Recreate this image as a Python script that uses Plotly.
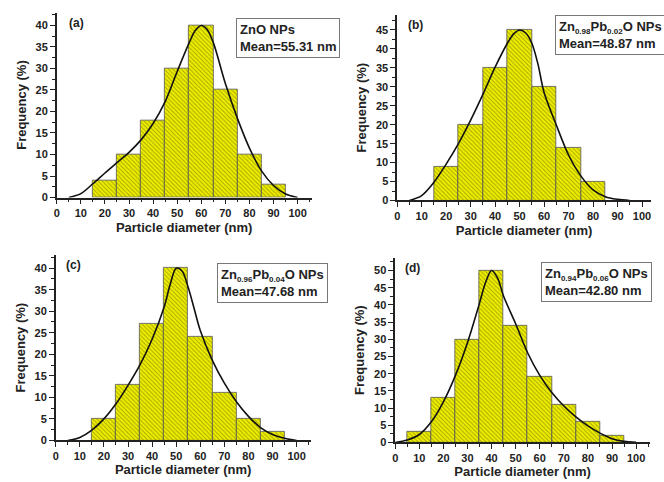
import plotly.graph_objects as go

# ---------------- data ----------------
bin_centers_a = [20, 30, 40, 50, 60, 70, 80, 90]
freq_a = [4, 10, 18, 30, 40, 25, 10, 3]
bin_centers_b = [20, 30, 40, 50, 60, 70, 80]
freq_b = [9, 20, 35, 45, 30, 14, 5]
bin_centers_c = [20, 30, 40, 50, 60, 70, 80, 90]
freq_c = [5, 13, 27, 40, 24, 11, 5, 2]
bin_centers_d = [10, 20, 30, 40, 50, 60, 70, 80, 90]
freq_d = [3, 13, 30, 50, 34, 19, 11, 6, 2]

fit_x_a = [5, 10, 15, 20, 25, 30, 35, 40, 45, 50, 55, 57.5, 60, 62.5, 65, 70, 75, 80, 85, 90, 95, 100]
fit_y_a = [0, 0.9, 3.2, 5.7, 8.1, 10.5, 13.4, 17.2, 22.3, 29.3, 36.0, 38.8, 40, 39.0, 36.0, 26.5, 18.4, 11.5, 6.2, 2.8, 0.8, 0]
fit_x_b = [5, 10, 15, 20, 25, 30, 35, 40, 45, 47.5, 50, 52.5, 55, 57.5, 60, 65, 70, 75, 80, 85, 90, 95]
fit_y_b = [0, 1.3, 4.8, 9.6, 15.0, 21.2, 28.0, 35.2, 41.5, 43.9, 45, 44.2, 41.5, 36.0, 28.5, 19.9, 12.0, 6.5, 2.8, 1.0, 0.3, 0]
fit_x_c = [5, 10, 15, 20, 25, 30, 35, 40, 45, 47.5, 50, 52.5, 55, 57.5, 60, 65, 70, 75, 80, 85, 90, 95, 100]
fit_y_c = [0, 0.7, 2.4, 5.0, 8.5, 12.8, 17.6, 23.5, 31.0, 36.2, 40, 39.3, 35.5, 30.5, 25.5, 18.6, 13.3, 9.0, 5.6, 3.0, 1.4, 0.5, 0]
fit_x_d = [0, 5, 10, 15, 20, 25, 30, 35, 37.5, 40, 42.5, 45, 50, 55, 60, 65, 70, 75, 80, 85, 90, 95, 100]
fit_y_d = [0, 0.7, 2.3, 6.0, 11.8, 19.5, 29.0, 40.5, 46.5, 50, 47.8, 42.5, 34.5, 26.0, 19.5, 14.5, 10.6, 7.4, 4.8, 2.7, 1.1, 0.3, 0]

x_ticks = [0, 10, 20, 30, 40, 50, 60, 70, 80, 90, 100]
panel_labels = ["(a)", "(b)", "(c)", "(d)"]
SUB = '<sub><span style="font-size:8px">%s</span></sub>'
legend_texts = [
    "ZnO NPs<br>Mean=55.31 nm",
    "Zn" + SUB % "0.98" + "Pb" + SUB % "0.02" + "O NPs<br>Mean=48.87 nm",
    "Zn" + SUB % "0.96" + "Pb" + SUB % "0.04" + "O NPs<br>Mean=47.68 nm",
    "Zn" + SUB % "0.94" + "Pb" + SUB % "0.06" + "O NPs<br>Mean=42.80 nm",
]
x_title = "Particle diameter (nm)"
y_title = "Frequency (%)"

# ---------------- layout geometry (pixels) ----------------
W, H = 664, 482
panels = [
    # (x0px, x1px, ybottom_px, ytop_px, xmax, ymax)
    (54, 310, 200, 12.7, 105.8, 43.0),
    (396, 651, 203, 15, 103.7, 49.0),
    (53, 309, 446, 258, 105.8, 43.1),
    (394, 650, 448, 261, 105.8, 53.7),
]
legend_boxes = [(234, 18), (555, 15), (215, 266), (540, 265)]
label_pos = [(64, 14), (405, 16), (61, 259), (402, 262)]

centers = [bin_centers_a, bin_centers_b, bin_centers_c, bin_centers_d]
freqs = [freq_a, freq_b, freq_c, freq_d]
fxs = [fit_x_a, fit_x_b, fit_x_c, fit_x_d]
fys = [fit_y_a, fit_y_b, fit_y_c, fit_y_d]

FONT = "Arial, Liberation Sans, sans-serif"
fig = go.Figure()
annotations = []
for i in range(4):
    xa = "x" if i == 0 else f"x{i+1}"
    ya = "y" if i == 0 else f"y{i+1}"
    fig.add_trace(go.Bar(
        x=centers[i], y=freqs[i], width=10,
        xaxis=xa, yaxis=ya,
        marker=dict(
            color="#eeee00",
            line=dict(color="#555555", width=0.8),
            pattern=dict(shape="\\", fgcolor="#5a5a00", bgcolor="#eeee00",
                         size=3, solidity=0.3, fillmode="overlay"),
        ),
        showlegend=False, hoverinfo="skip",
    ))
    fig.add_trace(go.Scatter(
        x=fxs[i], y=fys[i], mode="lines", xaxis=xa, yaxis=ya,
        line=dict(color="#111111", width=1.6, shape="spline", smoothing=0.9),
        showlegend=False, hoverinfo="skip",
    ))
    x0, x1, yb, yt, xmax, ymax = panels[i]
    xkey = "xaxis" if i == 0 else f"xaxis{i+1}"
    ykey = "yaxis" if i == 0 else f"yaxis{i+1}"
    axis_font = dict(family=FONT, size=11, color="#222222", weight="bold")
    title_font = dict(family=FONT, size=13, color="#222222", weight="bold")
    fig.layout[xkey] = dict(
        domain=[x0 / W, x1 / W], anchor=ya, range=[0, xmax],
        tickvals=x_ticks, ticks="outside", ticklen=5, tickwidth=1.3,
        tickcolor="#222222", showline=True, linecolor="#222222", linewidth=1.5,
        showgrid=False, zeroline=False, tickfont=axis_font,
        minor=dict(dtick=5, tick0=0, ticks="outside", ticklen=3, tickwidth=1, tickcolor="#222222"),
        title=dict(text=x_title, font=title_font, standoff=4),
    )
    fig.layout[ykey] = dict(
        domain=[1 - yb / H, 1 - yt / H], anchor=xa, range=[0, ymax],
        dtick=5, tick0=0, ticks="outside", ticklen=5, tickwidth=1.3,
        tickcolor="#222222", showline=True, linecolor="#222222", linewidth=1.5,
        showgrid=False, zeroline=False, tickfont=axis_font,
        minor=dict(dtick=2.5, tick0=0, ticks="outside", ticklen=3, tickwidth=1, tickcolor="#222222"),
        title=dict(text=y_title, font=title_font, standoff=6),
    )
    lx, ly = legend_boxes[i]
    annotations.append(dict(
        xref="paper", yref="paper", x=lx / W, y=1 - ly / H,
        xanchor="left", yanchor="top", align="left", showarrow=False,
        text=legend_texts[i], bordercolor="#777777", borderwidth=1, borderpad=3,
        bgcolor="white", font=dict(family=FONT, size=13, color="#222222", weight="bold"),
    ))
    px, py = label_pos[i]
    annotations.append(dict(
        xref="paper", yref="paper", x=px / W, y=1 - py / H,
        xanchor="left", yanchor="top", showarrow=False,
        text=panel_labels[i], font=dict(family=FONT, size=12, color="#222222", weight="bold"),
    ))

fig.update_layout(
    width=W, height=H, margin=dict(l=0, r=0, t=0, b=0),
    paper_bgcolor="white", plot_bgcolor="white",
    annotations=annotations, bargap=0,
)
fig.write_html("out.html")
